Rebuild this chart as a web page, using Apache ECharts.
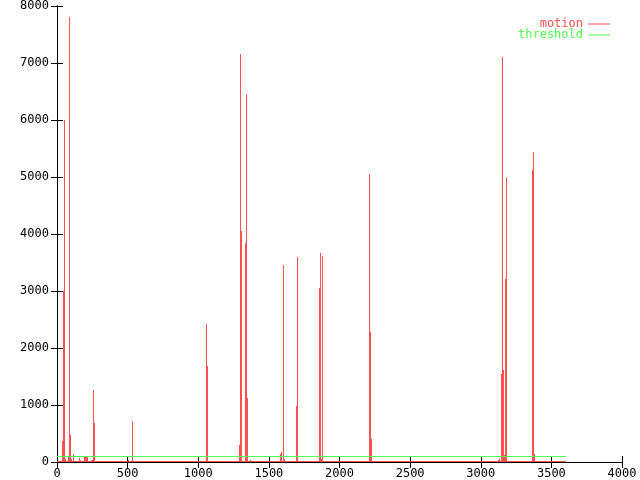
<!DOCTYPE html>
<html>
<head>
<meta charset="utf-8">
<script src="https://cdn.jsdelivr.net/npm/echarts@6/dist/echarts.min.js"></script>
<style>
  html, body { margin: 0; padding: 0; background: #fff; }
  #chart { width: 640px; height: 480px; }
</style>
</head>
<body>
<div id="chart"></div>
<script>
// motion spikes (seconds, amount)
const motionX = [37, 45, 52, 59, 80, 87, 94, 101, 115, 158, 166, 190, 197, 204, 211, 240, 247, 257, 264,
  505, 533, 1057, 1064, 1291, 1298, 1305, 1334, 1341, 1348, 1369, 1560, 1567, 1582, 1589, 1603, 1610,
  1695, 1702, 1858, 1865, 1872, 1879, 2212, 2219, 2226, 3119, 3126, 3140, 3147, 3154, 3166, 3175, 3182,
  3366, 3373, 3380];
const motionY = [370, 3000, 6000, 50, 80, 7800, 480, 60, 140, 70, 40, 80, 80, 100, 80, 40, 30, 1260, 680,
  30, 720, 2420, 1680, 300, 7150, 4050, 3840, 6450, 1120, 40, 20, 20, 140, 180, 3460, 50,
  980, 3600, 3050, 3660, 50, 3610, 5050, 2280, 400, 40, 60, 1550, 7100, 1620, 120, 3210, 4980,
  5120, 5430, 140];
const thresholdValue = 100;
const recordStart = 0;
const recordEnd = 3600;
const xMax = 4000, xStep = 500;
const yMax = 8000, yStep = 1000;

const red = '#ff5050';
const green = '#50ff50';
const font = 'DejaVu Sans Mono';

const chart = echarts.init(document.getElementById('chart'), null, { renderer: 'canvas' });

const plainLabel = v => String(v);

const hiddenAxis = {
  axisLine: { show: true, lineStyle: { color: '#000', width: 1 } },
  axisTick: { show: true, inside: true, length: 6, lineStyle: { color: '#000' } },
  axisLabel: { show: false },
  splitLine: { show: false }
};

// gnuplot-style impulses, snapped to whole pixels so they stay crisp
function renderImpulse(params, api) {
  const top = api.coord([api.value(0), api.value(1)]);
  const base = api.coord([api.value(0), 0]);
  const x = Math.round(top[0]);
  const y = Math.round(top[1]);
  return {
    type: 'rect',
    shape: { x: x, y: y, width: 1, height: Math.max(Math.round(base[1]) - y, 1) },
    style: { fill: red }
  };
}

// flat line [from, to, level] drawn as a 1px row (the axis line sits on row y-1)
function levelRenderer(color, rowShift) {
  return function (params, api) {
    const a = api.coord([api.value(0), api.value(2)]);
    const b = api.coord([api.value(1), api.value(2)]);
    const x0 = Math.round(a[0]);
    return {
      type: 'rect',
      shape: { x: x0, y: Math.floor(a[1]) + rowShift, width: Math.round(b[0]) - x0, height: 1 },
      style: { fill: color }
    };
  };
}

const option = {
  animation: false,
  backgroundColor: '#fff',
  grid: { left: 57, right: 18, top: 6, bottom: 18 },
  legend: [
    {
      data: [{ name: 'motion', textStyle: { color: red } }],
      right: 25, top: 13, align: 'right', icon: 'rect',
      itemWidth: 22, itemHeight: 1, itemStyle: { color: red }, selectedMode: false,
      textStyle: { fontFamily: font, fontSize: 12 }
    },
    {
      data: [{ name: 'threshold', textStyle: { color: green } }],
      right: 25, top: 24, align: 'right', icon: 'rect',
      itemWidth: 22, itemHeight: 1, itemStyle: { color: green }, selectedMode: false,
      textStyle: { fontFamily: font, fontSize: 12 }
    }
  ],
  xAxis: [
    {
      type: 'value', min: 0, max: xMax, interval: xStep,
      axisLine: { show: true, lineStyle: { color: '#000', width: 1 } },
      axisTick: { show: true, inside: true, length: 6, lineStyle: { color: '#000' } },
      axisLabel: { color: '#000', fontFamily: font, fontSize: 12, margin: 6, formatter: plainLabel },
      splitLine: { show: false }
    },
    Object.assign({ type: 'value', position: 'top', min: 0, max: xMax, interval: xStep }, hiddenAxis)
  ],
  yAxis: [
    {
      type: 'value', min: 0, max: yMax, interval: yStep,
      axisLine: { show: true, lineStyle: { color: '#000', width: 1 } },
      axisTick: { show: true, inside: true, length: 6, lineStyle: { color: '#000' } },
      axisLabel: { color: '#000', fontFamily: font, fontSize: 12, margin: 8, formatter: plainLabel },
      splitLine: { show: false }
    },
    Object.assign({ type: 'value', position: 'right', min: 0, max: yMax, interval: yStep }, hiddenAxis)
  ],
  series: [
    {
      // zero baseline of the motion trace over the recorded span
      type: 'custom',
      silent: true,
      clip: false,
      zlevel: 1,
      renderItem: levelRenderer(red, -1),
      encode: { x: [0, 1], y: 2 },
      data: [[recordStart, recordEnd, 0]]
    },
    {
      name: 'motion',
      type: 'custom',
      clip: false,
      renderItem: renderImpulse,
      itemStyle: { color: red },
      encode: { x: 0, y: 1 },
      data: motionX.map((x, i) => [x, motionY[i]])
    },
    {
      name: 'threshold',
      type: 'custom',
      clip: false,
      renderItem: levelRenderer(green, 0),
      itemStyle: { color: green },
      encode: { x: [0, 1], y: 2 },
      data: [[recordStart, recordEnd, thresholdValue]]
    }
  ]
};

chart.setOption(option);
</script>
</body>
</html>
